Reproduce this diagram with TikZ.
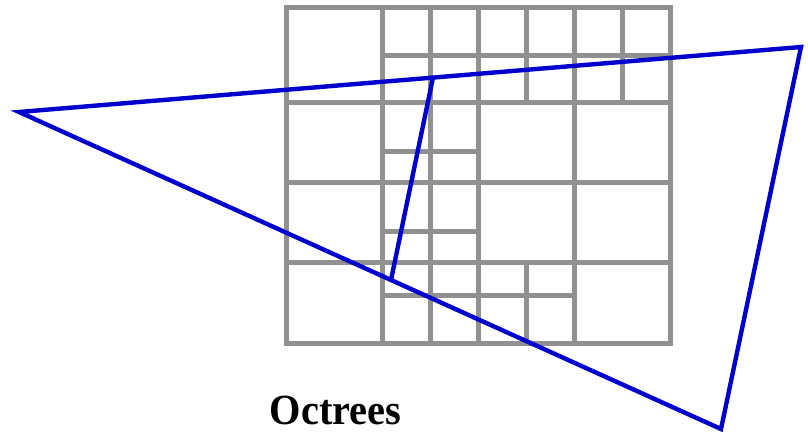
\documentclass[tikz,border=0pt]{standalone}
\usepackage{fontspec}
\setmainfont{Liberation Serif}
\definecolor{gridgray}{RGB}{145,145,145}
\definecolor{triblue}{RGB}{0,0,204}
\usetikzlibrary{positioning}

\begin{document}
\begin{tikzpicture}[x=1pt,y=-1pt,
    cellline/.style={draw=gridgray, line width=5pt, line cap=rect},
    triline/.style={draw=triblue, line width=4.4pt, line join=miter}]
  \useasboundingbox (0,0) rectangle (808,431);
  % coarse cells
  \draw[cellline] (286,7) rectangle (670,343);
  \foreach \x in {382,478,574} \draw[cellline] (\x,7) -- (\x,343);
  \foreach \y in {102,182,262} \draw[cellline] (286,\y) -- (670,\y);
  % refined cells
  \draw[cellline] (430,7) -- (430,343);
  \draw[cellline] (526,7) -- (526,102);
  \draw[cellline] (622,7) -- (622,102);
  \draw[cellline] (526,262) -- (526,343);
  \draw[cellline] (382,55) -- (670,55);
  \draw[cellline] (382,151) -- (478,151);
  \draw[cellline] (382,231) -- (478,231);
  \draw[cellline] (382,295) -- (574,295);
  % triangle
  \coordinate (left) at (19,112);
  \coordinate (right) at (801,47);
  \coordinate (bottom) at (721,429);
  \coordinate (upper) at (433,77.5);
  \coordinate (lower) at (391,280);
  \draw[triline] (left) -- (right) -- (bottom) -- cycle;
  \draw[triline] (upper) -- (lower);
  \node[anchor=base, xscale=0.94, inner sep=0pt, text depth=0pt,
        font=\fontsize{43}{50}\selectfont\bfseries] (title) at (335.5,424.5) {Octrees};
\end{tikzpicture}
\end{document}
